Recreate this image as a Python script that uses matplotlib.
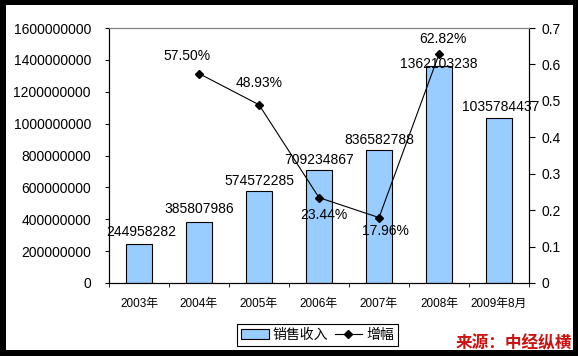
import numpy as np
import matplotlib
matplotlib.use("Agg")
import matplotlib.pyplot as plt
from matplotlib.patches import Rectangle
from matplotlib.lines import Line2D

plt.rcParams['font.family'] = ['Liberation Sans', 'Noto Sans CJK SC', 'DejaVu Sans']

# === du lieu ===
years = ["2003年", "2004年", "2005年", "2006年", "2007年", "2008年", "2009年8月"]
sales = [244958282, 385807986, 574572285, 709234867, 836582788, 1362103238, 1035784437]
growth_idx = [1, 2, 3, 4, 5]
growth = [0.5750, 0.4893, 0.2344, 0.1796, 0.6282]
growth_text = ["57.50%", "48.93%", "23.44%", "17.96%", "62.82%"]
left_ticks = [0, 200000000, 400000000, 600000000, 800000000,
              1000000000, 1200000000, 1400000000, 1600000000]
right_ticks = [0, 0.1, 0.2, 0.3, 0.4, 0.5, 0.6, 0.7]

# vi tri nhan (pixel offset)
bar_off = [(2, 12), (0, 13), (0, 10), (0, 10), (0, 10), (0, 2), (2, 11)]
pct_off = [(-12, 18), (0, 22), (5, -17), (6, -13), (4, 15)]

fig = plt.figure(figsize=(5.78, 3.56), dpi=100, facecolor="black")
# nen trang ben trong khung den
fig.patches.append(Rectangle((6 / 578, 6 / 356), 567 / 578, 345 / 356,
                             transform=fig.transFigure, facecolor="white",
                             edgecolor="none", zorder=-10))

ax = fig.add_axes([109 / 578, 73 / 356, 420 / 578, 255 / 356])
ax.set_facecolor("white")
x = np.arange(len(years))
ax.bar(x, sales, width=0.43, color="#99CCFF", edgecolor="black", linewidth=0.8, zorder=2)
ax.set_xlim(-0.5, len(years) - 0.5)
ax.set_ylim(0, 1600000000)
ax.set_yticks(left_ticks)
ax.set_yticklabels([str(v) for v in left_ticks], fontsize=10)
ax.set_xticks(x)
ax.set_xticklabels(years, fontsize=8.5)
ax.set_xticks(np.arange(len(years) + 1) - 0.5, minor=True)
ax.tick_params(axis="x", which="major", length=0, pad=11)
ax.tick_params(axis="x", which="minor", length=3, direction="out")
ax.tick_params(axis="y", length=3, pad=10)
for s in ["left", "right", "bottom"]:
    ax.spines[s].set_color("black")
ax.spines["top"].set_color("#808080")

for i, v in enumerate(sales):
    ax.annotate(str(v), (x[i], v), xytext=bar_off[i], textcoords="offset pixels",
                ha="center", va="center", fontsize=10, zorder=5)

ax2 = ax.twinx()
ax2.set_ylim(0, 0.7)
ax2.set_yticks(right_ticks)
ax2.set_yticklabels(["0"] + ["%.1f" % t for t in right_ticks[1:]], fontsize=10)
ax2.tick_params(axis="y", length=4, pad=5)
ax2.spines["top"].set_color("#808080")
ax2.spines["right"].set_color("black")
ax2.plot(growth_idx, growth, color="black", linewidth=0.8, marker="D", markersize=4.5, zorder=3)
for i, (gi, g) in enumerate(zip(growth_idx, growth)):
    ax2.annotate(growth_text[i], (gi, g), xytext=pct_off[i], textcoords="offset pixels",
                 ha="center", va="center", fontsize=10)

handles = [Rectangle((0, 0), 1, 1, facecolor="#99CCFF", edgecolor="black", linewidth=0.8),
           Line2D([], [], color="black", linewidth=0.8, marker="D", markersize=4.5)]
leg = fig.legend(handles, ["销售收入", "增幅"], loc="center", bbox_to_anchor=(317.5 / 578, 21 / 356),
                 ncol=2, fontsize=10, frameon=True, fancybox=False, edgecolor="black",
                 framealpha=1, borderpad=0.3, handlelength=2.0, handletextpad=0.3,
                 columnspacing=0.45, handleheight=0.8)
leg.get_frame().set_linewidth(0.8)

fig.text(514 / 578, 13 / 356, "来源：中经纵横", ha="center", va="center", fontsize=12,
         color="#CC1111", fontweight="bold", family=["Noto Sans CJK SC"])

fig.savefig("out.png", dpi=100, facecolor=fig.get_facecolor())
